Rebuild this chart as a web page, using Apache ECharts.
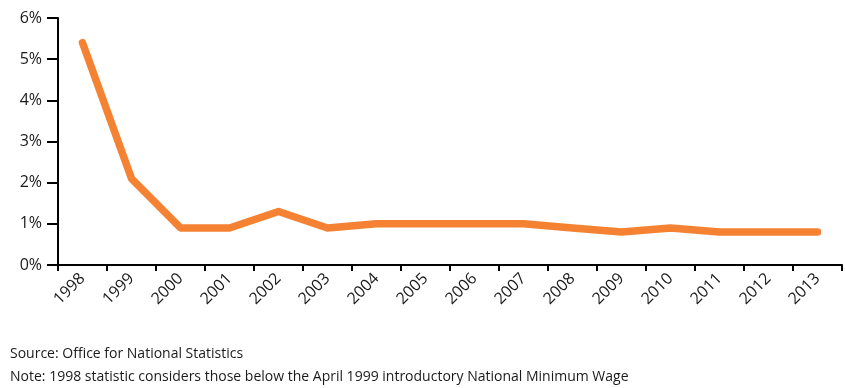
<!DOCTYPE html>
<html><head><meta charset="utf-8">
<script src="https://cdn.jsdelivr.net/npm/echarts@6/dist/echarts.min.js"></script>
<style>html,body{margin:0;padding:0;background:#fff}#c{width:845px;height:388px}</style>
</head><body><div id="c"></div>
<script>
var years = ['1998','1999','2000','2001','2002','2003','2004','2005','2006','2007','2008','2009','2010','2011','2012','2013'];
var values = [5.4, 2.1, 0.9, 0.9, 1.3, 0.9, 1.0, 1.0, 1.0, 1.0, 0.9, 0.8, 0.9, 0.8, 0.8, 0.8];
var yTicks = [0, 1, 2, 3, 4, 5, 6];
var sourceText = 'Source: Office for National Statistics';
var noteText = 'Note: 1998 statistic considers those below the April 1999 introductory National Minimum Wage';

var chart = echarts.init(document.getElementById('c'), null, {renderer: 'canvas'});
var font = 'Open Sans, Liberation Sans, sans-serif';
chart.setOption({
  animation: false,
  grid: {left: 58, right: 3, top: 18, bottom: 123, containLabel: false},
  xAxis: {
    type: 'category', data: years, boundaryGap: true,
    axisLine: {lineStyle: {color: '#000', width: 2}},
    axisTick: {show: true, length: 6, lineStyle: {color: '#000', width: 2}, alignWithLabel: false},
    axisLabel: {rotate: 45, color: '#1a1a1a', fontSize: 16, fontFamily: font, margin: 11, interval: 0}
  },
  yAxis: {
    type: 'value', min: yTicks[0], max: yTicks[yTicks.length - 1], interval: 1,
    axisLine: {show: true, lineStyle: {color: '#000', width: 2}},
    axisTick: {show: true, length: 11, lineStyle: {color: '#000', width: 2}},
    splitLine: {show: false},
    axisLabel: {color: '#1a1a1a', fontSize: 16, fontFamily: font, margin: 16, formatter: function(v){return v + '%';}}
  },
  series: [{
    type: 'line', data: values, symbol: 'none',
    lineStyle: {color: '#F58232', width: 7.5, cap: 'round', join: 'round'}
  }],
  graphic: [
    {type: 'text', left: 10, top: 347, style: {text: sourceText, fontSize: 14, fontFamily: font, fill: '#1a1a1a'}},
    {type: 'text', left: 10, top: 370, style: {text: noteText, fontSize: 14, fontFamily: font, fill: '#1a1a1a'}}
  ]
});
</script></body></html>
